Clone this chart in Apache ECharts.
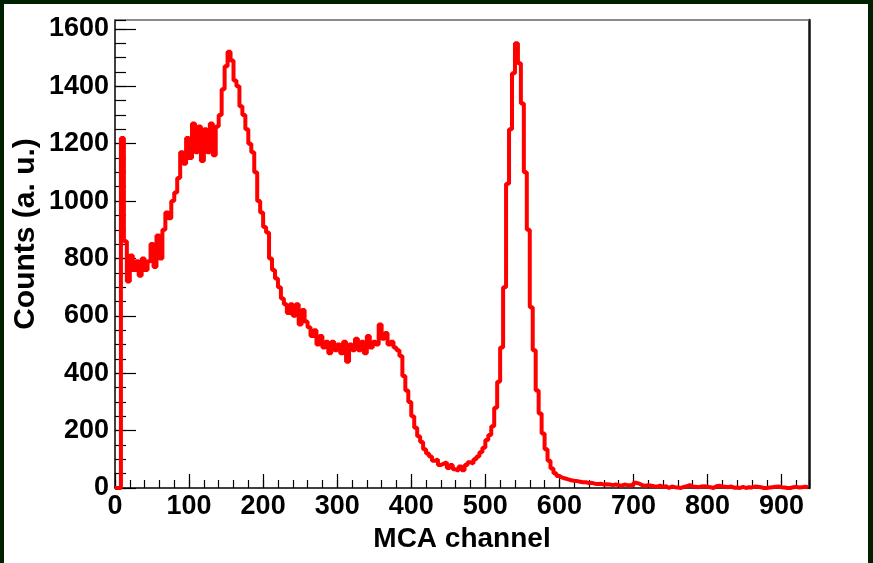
<!DOCTYPE html>
<html><head><meta charset="utf-8">
<script src="https://cdn.jsdelivr.net/npm/echarts@6/dist/echarts.min.js"></script>
<style>
html,body{margin:0;padding:0;background:#012001;width:873px;height:563px;overflow:hidden}
#bg{position:absolute;left:4px;top:4px;width:864px;height:559px;background:#fff}
#c{position:absolute;left:0;top:0;width:873px;height:563px}
</style></head><body><div id="bg"></div><div id="c"></div><script>
// Histogram: bins of 4 MCA channels starting at channel 0
const firstChannel = 0;
const binWidth = 4;
const counts = [
0,0,1220,860,720,810,760,790,740,800,
760,790,850,770,880,800,900,960,940,1000,
1030,1080,1170,1130,1220,1150,1270,1170,1260,1140,
1250,1170,1270,1160,1260,1300,1390,1470,1520,1490,
1420,1400,1330,1300,1250,1200,1170,1100,1000,960,
910,890,800,760,730,700,660,640,610,640,
600,640,570,620,580,560,530,550,500,530,
490,510,470,510,480,500,470,510,440,500,
480,520,480,510,470,530,490,510,500,570,
520,540,500,510,490,480,460,390,340,300,
250,210,180,160,135,120,110,95,100,80,
85,90,70,80,65,60,75,62,80,90,
85,100,110,125,140,167,185,215,280,370,
490,700,1060,1250,1445,1550,1480,1340,1100,900,
630,480,340,260,190,135,95,68,51,42,
36,33,30,27,25,24,22,20,20,17,
18,15,14,15,12,13,12,10,12,10,
8,12,10,10,8,18,15,10,8,10,
8,6,5,8,4,6,0,5,3,2,
0,4,6,10,5,4,3,5,6,4,
3,0,6,8,5,4,3,5,1,2,
0,4,0,3,2,5,4,3,0,0,
2,3,4,5,3,2,0,0,3,4,
2,3,4,3
];
const xMax = 937, yMax = 1631;
const xMajor = 100, xMinor = 20, yMajor = 200, yMinor = 50;
const xTitle = 'MCA channel';
const yTitle = 'Counts (a. u.)';

const pts = counts.map((v, i) => [firstChannel + i * binWidth, v]);
pts.push([firstChannel + counts.length * binWidth, counts[counts.length - 1]]);

const FONT = '"Liberation Sans", Arial, sans-serif';
const plain = v => String(v);
const lbl = {color:'#000', fontFamily:FONT, fontWeight:'bold', fontSize:27, formatter:plain};
const chart = echarts.init(document.getElementById('c'), null, {renderer:'canvas'});
chart.setOption({
  animation:false,
  backgroundColor:'transparent',
  grid:{left:115, top:20, width:694, height:468, containLabel:false},
  xAxis:[
    {type:'value', min:0, max:xMax, interval:xMajor, position:'bottom',
     axisLine:{show:true, onZero:false, lineStyle:{color:'#000', width:1.5}},
     axisTick:{show:true, inside:true, length:14, lineStyle:{color:'#000', width:1.2}},
     axisLabel:{...lbl, margin:5, showMaxLabel:false},
     splitLine:{show:false}},
    {type:'value', min:0, max:xMax, interval:xMinor, position:'bottom',
     axisLine:{show:false},
     axisTick:{show:true, inside:true, length:8, lineStyle:{color:'#000', width:1.2}},
     axisLabel:{show:false}, splitLine:{show:false}},
    {type:'value', min:0, max:xMax, position:'top',
     axisLine:{show:true, onZero:false, lineStyle:{color:'#666', width:1.5}},
     axisTick:{show:false}, axisLabel:{show:false}, splitLine:{show:false}}
  ],
  yAxis:[
    {type:'value', min:0, max:yMax, interval:yMajor, position:'left',
     axisLine:{show:true, onZero:false, lineStyle:{color:'#000', width:1.5}},
     axisTick:{show:true, inside:true, length:21, lineStyle:{color:'#000', width:1.2}},
     axisLabel:{...lbl, margin:6, showMaxLabel:false},
     splitLine:{show:false}},
    {type:'value', min:0, max:yMax, interval:yMinor, position:'left',
     axisLine:{show:false},
     axisTick:{show:true, inside:true, length:11, lineStyle:{color:'#000', width:1.2}},
     axisLabel:{show:false}, splitLine:{show:false}},
    {type:'value', min:0, max:yMax, position:'right',
     axisLine:{show:true, onZero:false, lineStyle:{color:'#111', width:2.5}},
     axisTick:{show:false}, axisLabel:{show:false}, splitLine:{show:false}}
  ],
  graphic:[
    {type:'text', x:462, y:525, style:{text:xTitle, fill:'#000', font:'bold 28px ' + FONT, align:'center', verticalAlign:'top'}},
    {type:'text', x:41, y:234, rotation:Math.PI/2, style:{text:yTitle, fill:'#000', font:'bold 30px ' + FONT, align:'center', verticalAlign:'bottom'}}
  ],
  series:[{
    type:'line', xAxisIndex:0, yAxisIndex:0, step:'end', data:pts,
    symbol:'none', clip:true,
    lineStyle:{color:'#ff0000', width:4},
    emphasis:{disabled:true}
  }]
});
</script></body></html>
